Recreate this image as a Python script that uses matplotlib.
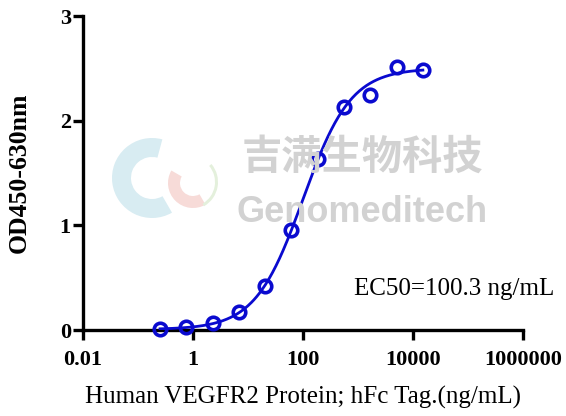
"""
Binding ELISA curve: Human VEGFR2 Protein; hFc Tag.
"""
import matplotlib
matplotlib.use("Agg")
import matplotlib.pyplot as plt
from matplotlib.patches import Wedge
import numpy as np

# measured points (3-fold dilution series, ng/mL) and OD readings
conc = [0.254, 0.762, 2.29, 6.86, 20.6, 61.7, 185.2, 555.6, 1667, 5000, 15000]
od = [0.007, 0.03, 0.064, 0.175, 0.42, 0.955, 1.63, 2.13, 2.245, 2.515, 2.48]

# 4PL fit parameters
fit_bottom = 0.005
fit_top = 2.50
fit_ec50 = 100.3
fit_hill = 1.0

x_ticks = [0.01, 1, 100, 10000, 1000000]
x_tick_labels = ["0.01", "1", "100", "10000", "1000000"]
y_ticks = [0, 1, 2, 3]

blue = "#0A0ACF"
serif = ["Liberation Serif", "DejaVu Serif"]

fig = plt.figure(figsize=(5.66, 4.16), dpi=100)
ax = fig.add_axes([0.146, 0.2067, 0.7786, 0.7548])


def px(x, y):
    # figure pixel (from top-left) -> inches for dpi_scale_trans
    return (x / 100, (416 - y) / 100)


# faint logo of the watermark
logo = [
    (px(152, 178), 0.40, 0.19, 75, 300, "#d8ecf2"),
    (px(193, 183), 0.25, 0.12, 150, 300, "#f7dbd8"),
    (px(190, 182), 0.28, 0.03, -60, 40, "#e4f0dc"),
]
for c, r, w, t1, t2, col in logo:
    fig.add_artist(Wedge(c, r, t1, t2, width=w, color=col, lw=0,
                         transform=fig.dpi_scale_trans, zorder=0))

# watermark text
fig.text(0.64, 0.622, "吉满生物科技", fontsize=29, color="#d2d2d2", weight="bold",
         family=["Noto Sans CJK SC", "DejaVu Sans"], ha="center", va="center", zorder=0)
fig.text(0.64, 0.49, "Genomeditech", fontsize=26, color="#d2d2d2", weight="bold",
         family=["Liberation Sans", "DejaVu Sans"], ha="center", va="center", zorder=0)

# fitted curve
xs = np.logspace(np.log10(conc[0]), np.log10(conc[-1]), 300)
ys = fit_bottom + (fit_top - fit_bottom) / (1 + (fit_ec50 / xs) ** fit_hill)
ax.plot(xs, ys, color=blue, lw=2, zorder=3)
ax.plot(conc, od, "o", ms=9, mfc="none", mec=blue, mew=2.6, zorder=4, clip_on=False)

ax.set_xscale("log")
ax.set_xlim(0.01, 1000000)
ax.set_ylim(0, 3)
ax.set_xticks(x_ticks)
ax.set_xticklabels(x_tick_labels)
ax.xaxis.set_minor_locator(matplotlib.ticker.NullLocator())
ax.set_yticks(y_ticks)

for s in ["top", "right"]:
    ax.spines[s].set_visible(False)
for s in ["left", "bottom"]:
    ax.spines[s].set_linewidth(2.4)
ax.patch.set_alpha(0)
ax.tick_params(width=2.4, length=7.5, direction="out")
ax.tick_params(axis="x", pad=7)
ax.tick_params(axis="y", pad=1)
for lab in ax.get_xticklabels() + ax.get_yticklabels():
    lab.set_fontfamily(serif)
    lab.set_fontweight("bold")
    lab.set_fontsize(16)

ax.set_xlabel("Human VEGFR2 Protein; hFc Tag.(ng/mL)", fontsize=18, family=serif, labelpad=11)
ax.set_ylabel("OD450-630nm", fontsize=18.5, family=serif, weight="bold", labelpad=21)

ax.text(1.07, 0.13, "EC50=100.3 ng/mL", transform=ax.transAxes, fontsize=18,
        family=serif, ha="right", va="center")

fig.savefig("out.png", dpi=100)
